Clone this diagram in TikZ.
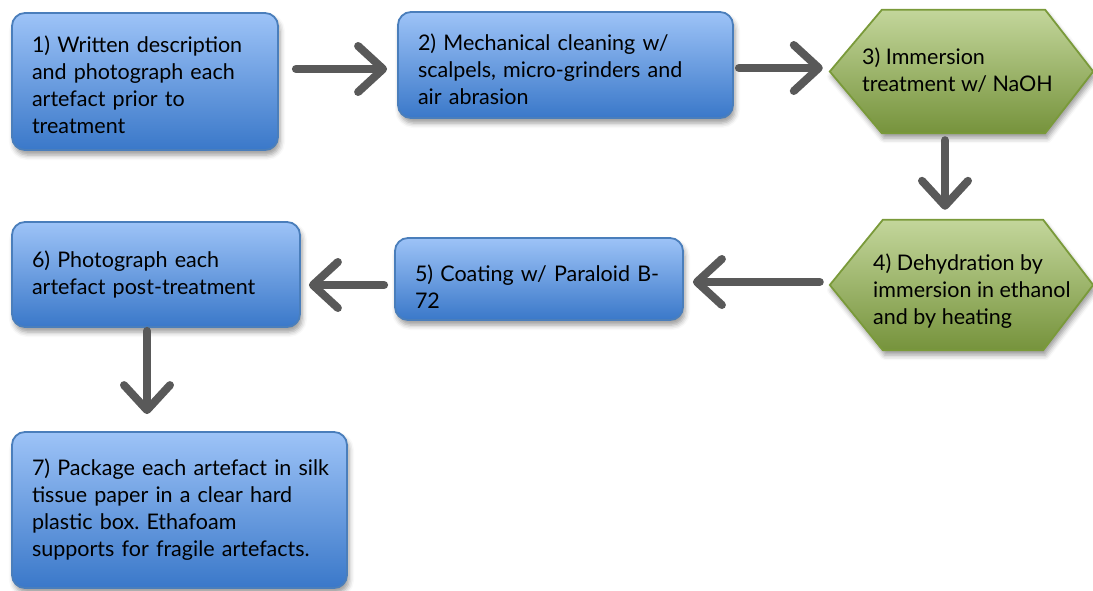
\documentclass[tikz,border=0pt]{standalone}
\usepackage{fontspec}
\setmainfont{Lato}
\frenchspacing
\usetikzlibrary{arrows.meta,shadows.blur,calc,backgrounds}
\definecolor{bluetop}{HTML}{9DC3F7}
\definecolor{bluebot}{HTML}{3A78C9}
\definecolor{blueborder}{HTML}{4A7EBB}
\definecolor{greentop}{HTML}{C3D69B}
\definecolor{greenbot}{HTML}{76933C}
\definecolor{greenborder}{HTML}{7A9A3A}
\definecolor{arrowgray}{HTML}{595959}
\tikzset{
  txtfont/.style={font=\fontsize{21.5}{27}\selectfont},
  softshadow/.style={blur shadow={shadow xshift=2pt, shadow yshift=-5pt, shadow blur radius=5pt, shadow opacity=40}},
  box/.style={rectangle, rounded corners=13pt, draw=blueborder, line width=1.8pt,
    top color=bluetop, bottom color=bluebot, softshadow, align=left,
    inner xsep=20pt, txtfont, text=black},
  hexholder/.style={rectangle, draw=none, inner sep=0pt, minimum width=263pt},
  hexfill/.style={draw=greenborder, line width=1.8pt, top color=greentop, bottom color=greenbot, softshadow},
  hextext/.style={align=left, inner sep=0pt, anchor=west, txtfont, text=black},
  arr/.style={draw=arrowgray, line width=8pt, line cap=round,
    -{Straight Barb[length=25pt,width=46pt,round]}}
}
\begin{document}
\begin{tikzpicture}[x=1pt,y=-1pt]
\useasboundingbox (0,0) rectangle (1093,590);
% rectangles
\node[box, text width=226pt, minimum height=137pt] (n1) at (145,81.5)
  {\rule{0pt}{24pt}1) Written description\\and photograph each\\artefact prior to\\treatment};
\node[box, text width=295pt, minimum height=106pt] (n2) at (565.5,65)
  {\rule{0pt}{25pt}2) Mechanical cleaning w/\\scalpels, micro-grinders and\\air abrasion};
\node[box, text width=248pt, minimum height=82pt] (n5) at (539,279)
  {\rule{0pt}{31pt}5) Coating w/ Paraloid B-\\72};
\node[box, text width=248pt, minimum height=105pt] (n6) at (156,274.5)
  {6) Photograph each\\artefact post-treatment};
\node[box, text width=295pt, minimum height=156pt] (n7) at (179.5,510)
  {\mbox{7) Package each artefact in silk}\\tissue paper in a clear hard\\plastic box. Ethafoam\\supports for fragile artefacts.};
% hexagons
\node[hexholder, minimum height=123pt] (h3) at (961.5,71.5) {};
\node[hexholder, minimum height=130pt] (h4) at (961.5,285) {};
\begin{pgfonlayer}{background}
\path[hexfill] (h3.west) -- ([xshift=52pt]h3.north west) -- ([xshift=-48pt]h3.north east)
  -- (h3.east) -- ([xshift=-48pt]h3.south east) -- ([xshift=52pt]h3.south west) -- cycle;
\path[hexfill] (h4.west) -- ([xshift=53pt]h4.north west) -- ([xshift=-50pt]h4.north east)
  -- (h4.east) -- ([xshift=-50pt]h4.south east) -- ([xshift=53pt]h4.south west) -- cycle;
\end{pgfonlayer}
\node[hextext] (t3) at (862,70.5) {3) Immersion\\treatment w/ NaOH};
\node[hextext] (t4) at (873,291) {4) Dehydration by\\immersion in ethanol\\and by heating};
% connectors
\draw[arr] ($(n1.east)+(17,-12.5)$) -- ($(n2.west)+(-10,4)$);
\draw[arr] ($(n2.east)+(5,3)$) -- ($(h3.west)+(-7,-3.5)$);
\draw[arr] ($(h3.south)+(-16.5,7)$) -- ($(h4.north)+(-16.5,-10)$);
\draw[arr] ($(h4.west)+(-10,-3)$) -- ($(n5.east)+(9,3)$);
\draw[arr] ($(n5.west)+(-10,6)$) -- ($(n6.east)+(8,10.5)$);
\draw[arr] ($(n6.south)+(-9,3)$) -- ($(n7.north)+(-32.5,-17)$);
\end{tikzpicture}
\end{document}
